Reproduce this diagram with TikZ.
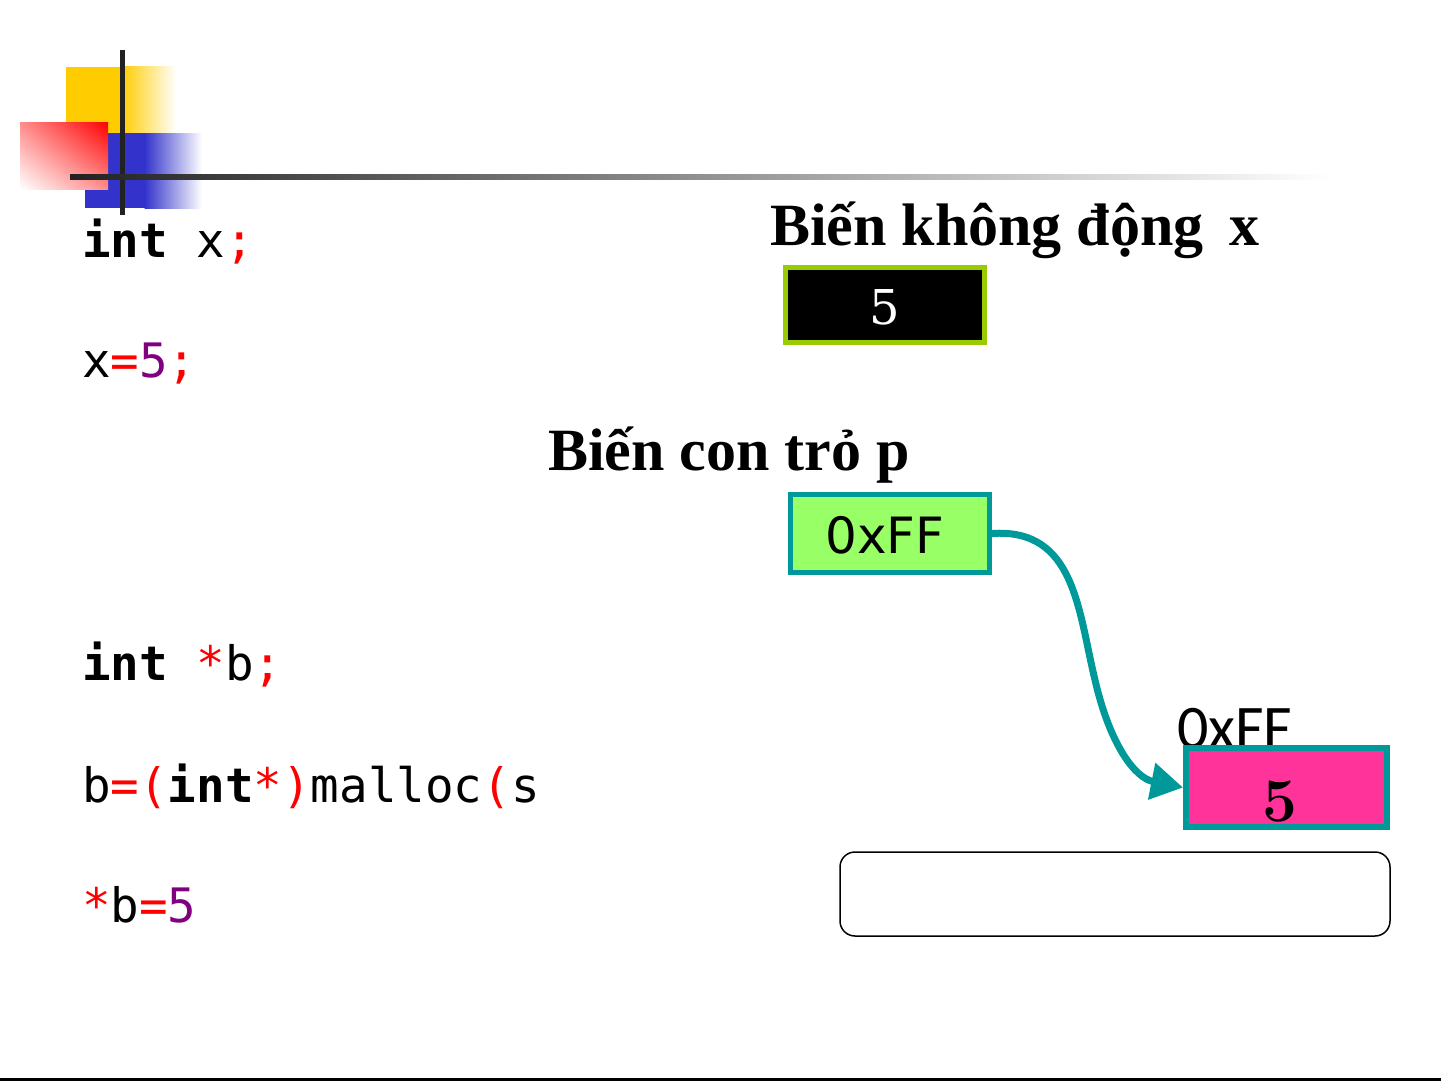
\documentclass[tikz,border=0pt]{standalone}
\usepackage{fontspec}
\newfontfamily\timesf{Liberation Serif}
\newfontfamily\codefont{DejaVu Sans Mono}
\newfontfamily\sansf{DejaVu Sans}
\newfontfamily\serifd{DejaVu Serif}
\newfontfamily\calib{Carlito}
\usetikzlibrary{arrows.meta,shadings}
\definecolor{kred}{HTML}{FF0000}
\definecolor{kpurple}{HTML}{800080}
\definecolor{dyellow}{HTML}{FFCC00}
\definecolor{dblue}{HTML}{3333CC}
\definecolor{dred}{HTML}{FF0000}
\definecolor{limeb}{HTML}{99CC00}
\definecolor{lgreen}{HTML}{99FF66}
\definecolor{tealb}{HTML}{009999}
\definecolor{pinkf}{HTML}{FF3399}
\definecolor{darkl}{HTML}{222222}
\tikzset{
  code/.style={anchor=base west, inner sep=0pt, font=\codefont\fontsize{47.5}{50}\selectfont},
  title/.style={anchor=base west, inner sep=0pt, font=\timesf\bfseries\fontsize{60}{66}\selectfont},
  membox/.style={draw, rectangle, inner sep=0pt},
}
\begin{document}
\begin{tikzpicture}[x=1pt,y=-1pt]
\useasboundingbox (0,0) rectangle (1441,1081);
\fill[white] (0,0) rectangle (1441,1081);
% decoration squares
\fill[dyellow] (66,67) rectangle (122,135);
\shade[left color=dyellow, right color=white] (121.5,67) rectangle (176,135);
\fill[dblue] (85,133) rectangle (145,208);
\shade[left color=dblue, right color=white] (144.5,133) rectangle (202,208);
\shade[upper right=dred, lower left=white, upper left=dred!45, lower right=dred!45] (20,122) rectangle (108,189);
\fill[darkl] (119.5,50) rectangle (124.5,215);
\shade[left color=darkl, right color=white] (70,174.5) rectangle (1330,179.5);
% code
\node[code] (c1) at (82,257) {\textbf{int} x\textcolor{kred}{;}};
\node[code] (c2) at (82,377) {x\textcolor{kred}{=}\textcolor{kpurple}{5}\textcolor{kred}{;}};
\node[code] (c3) at (82,680) {\textbf{int} \textcolor{kred}{*}b\textcolor{kred}{;}};
\begin{scope}
\clip (0,730) rectangle (540,830);
\node[code] (c4) at (82,802) {b\textcolor{kred}{=(}\textbf{int}\textcolor{kred}{*)}malloc\textcolor{kred}{(}sizeof};
\end{scope}
\node[code] (c5) at (82,922) {\textcolor{kred}{*}b\textcolor{kred}{=}\textcolor{kpurple}{5}};
% titles
\node[title] (t1) at (770,245) {Biến không động\hspace{26pt}x};
\node[title] (t2) at (548,470) {Biến con trỏ p};
% box x
\node[membox, draw=limeb, fill=black, line width=5pt, minimum width=199pt, minimum height=75pt] (bx) at (885,305) {};
\node[text=white, font=\serifd\fontsize{48}{48}\selectfont, inner sep=0pt] (vx) at (885,307) {5};
% box p
\node[membox, draw=tealb, fill=lgreen, line width=5pt, minimum width=199pt, minimum height=78pt] (bp) at (890,533.5) {};
\node[font=\sansf\fontsize{50}{50}\selectfont, inner sep=0pt] (vp) at (885,535) {0xFF};
% heap
\node[anchor=base west, font=\calib\fontsize{62}{62}\selectfont, inner sep=0pt] (la) at (1177,748) {0xFF};
\node[membox, draw=tealb, fill=pinkf, line width=6pt, minimum width=201pt, minimum height=79pt] (bh) at (1286.5,787.5) {};
\node[font=\bfseries\fontsize{62}{62}\selectfont, inner sep=0pt] (vh) at (1280,802) {5};
% arrow
\draw[tealb, line width=7pt, -{Triangle[length=32pt, width=36pt]}] (bp.east) .. controls (1075,528) and (1078,610) .. (1095,680) .. controls (1110,745) and (1135,778) .. (bh.west);
% rounded box
\node[draw, rounded corners=15pt, line width=1.5pt, minimum width=550pt, minimum height=84pt, inner sep=0pt] (rb) at (1115,894) {};
% bottom line
\coordinate (bl) at (0,1079.5);
\coordinate (br) at (1441,1079.5);
\draw[line width=3pt] (bl) -- (br);
\end{tikzpicture}
\end{document}
